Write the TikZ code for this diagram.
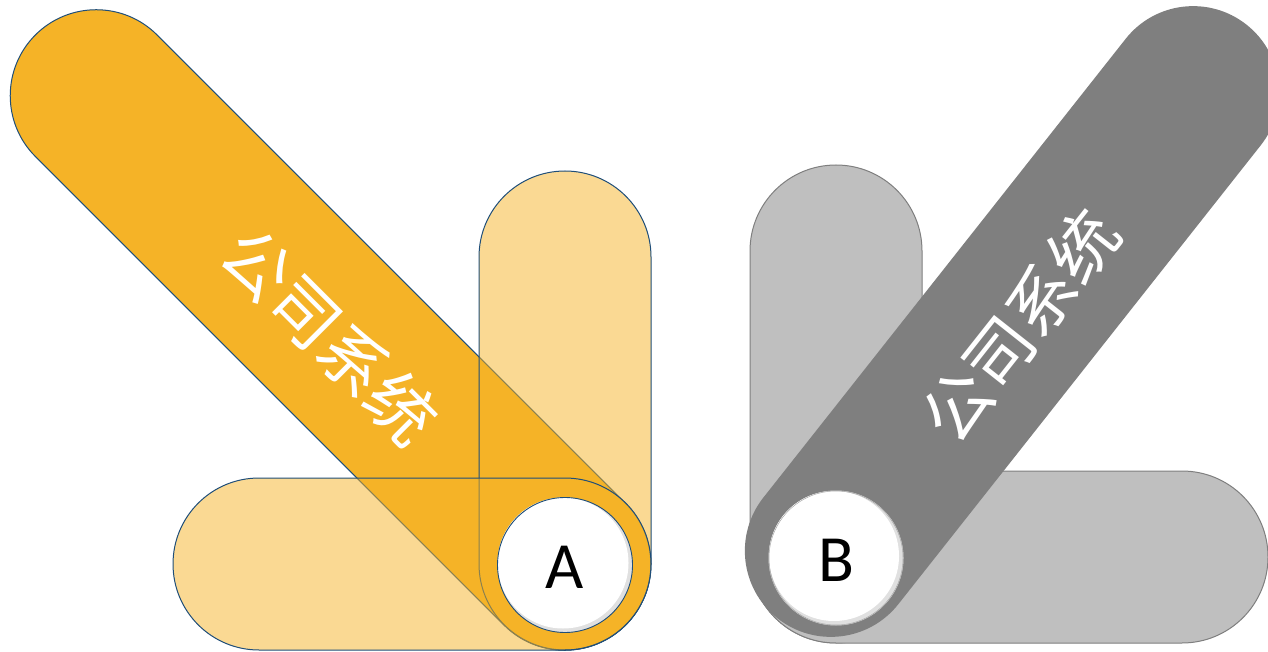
\documentclass[tikz,border=0pt]{standalone}
\usepackage{fontspec}
\usepackage{tikz}
\usetikzlibrary{shapes.misc, positioning}
\newfontfamily\cjk{Noto Sans CJK SC}
\newfontfamily\letterfont{Carlito}
\definecolor{morange}{HTML}{F5B327}
\definecolor{mnavy}{HTML}{1F4E79}
\definecolor{mdark}{HTML}{7F7F7F}
\definecolor{mlightgray}{HTML}{BFBFBF}
\tikzset{
  pill/.style={rounded rectangle, inner sep=0pt, minimum height=172pt, line width=1pt},
  opill/.style={pill, draw=mnavy, fill=morange},
  ppill/.style={pill, draw=mnavy, fill=morange, fill opacity=0.5},
  gpill/.style={pill, draw=mdark, fill=mlightgray},
  dpill/.style={pill, fill=mdark},
  disc/.style={circle, inner sep=0pt, minimum size=135pt},
  letter/.style={inner sep=0pt, font=\letterfont\fontsize{66pt}{66pt}\selectfont},
  caption/.style={inner sep=0pt, text=white, font=\cjk\fontsize{68pt}{68pt}\selectfont},
}

\begin{document}
\begin{tikzpicture}[x=1pt, y=-1pt]
  \useasboundingbox (0,0) rectangle (1268,652);
  \clip (0,0) rectangle (1268,652);
  % group A
  \node[opill, minimum width=834.6pt, rotate=-45] (diagA) at (330.5,330) {};
  \node[ppill, minimum width=479pt, rotate=90] (vertA) at (565,410.5) {};
  \node[ppill, minimum width=478pt] (horA) at (412,564) {};
  \node[caption, rotate=-45] (txtA) at (330,336) {公司系统};
  \node[disc, fill=black!12] (dA) at (565,565) {};
  \fill[white] ([xshift=-2pt, yshift=2pt]dA.center) circle (65.5pt);
  \draw[mnavy, line width=0.9pt] (dA.center) circle (67.5pt);
  \node[letter] (lA) at (565,567) {A};
  % group B
  \node[gpill, minimum width=478pt, rotate=90] (vertB) at (836,404) {};
  \node[gpill, minimum width=518pt] (horB) at (1009,557) {};
  \node[dpill, minimum width=756.6pt, rotate=51.7] (diagB) at (1012,321.5) {};
  \node[caption, rotate=51.7] (txtB) at (1020,326) {公司系统};
  \node[disc, fill=black!12] (dB) at (836,558) {};
  \fill[white] ([xshift=-2pt, yshift=2pt]dB.center) circle (65pt);
  \draw[black!35, line width=0.5pt] (dB.center) circle (67pt);
  \node[letter] (lB) at (836,560) {B};
\end{tikzpicture}
\end{document}
